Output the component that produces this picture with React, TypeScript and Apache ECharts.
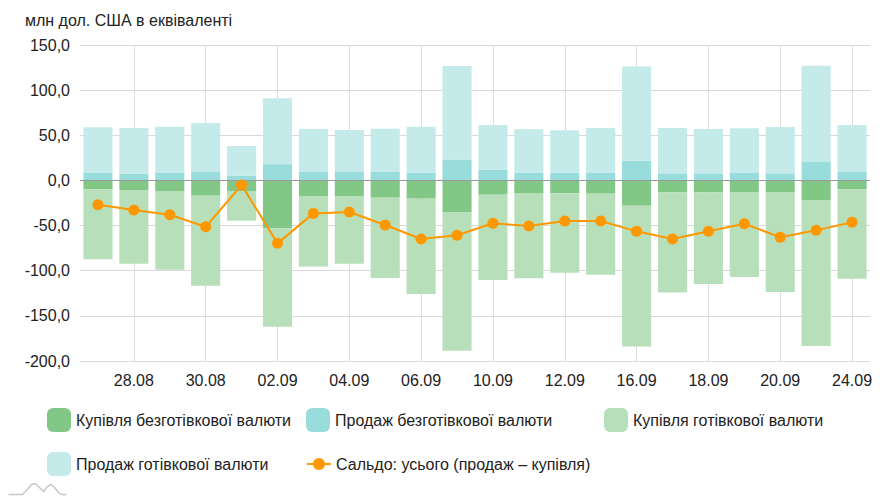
import React, { useEffect, useRef } from "react";
import * as echarts from "echarts";

const categories = [
  "27.08", "28.08", "29.08", "30.08", "31.08", "02.09", "03.09", "04.09", "05.09", "06.09", "09.09",
  "10.09", "11.09", "12.09", "13.09", "16.09", "17.09", "18.09", "19.09", "20.09", "23.09", "24.09",
];

const cashlessBuy = [
  -9.9, -10.6, -11.7, -16.9, -11.7, -53, -17.3, -17.3, -19.1, -20.2, -35.4,
  -15.8, -14, -14.3, -14.7, -28, -13.2, -13.2, -12.8, -12.8, -21.7, -9.9,
];
const cashlessSale = [
  8.2, 7.4, 8.2, 10, 5.2, 18, 9.3, 9.3, 9.7, 8.6, 23,
  11.9, 8.6, 8.6, 8.6, 21.8, 7.8, 7.8, 8.6, 7.8, 21.1, 9.3,
];
const cashBuy = [
  -77.5, -81.6, -87.2, -99.7, -32.9, -109, -77.9, -74.9, -88.9, -105.6, -153.2,
  -94.5, -94.4, -87.9, -89.7, -156, -110.8, -101.5, -94.2, -110.8, -161.7, -98.9,
];
const cashSale = [
  50.8, 50.6, 51.3, 53.6, 32.8, 73, 47.6, 46.5, 47.6, 50.9, 103.7,
  49.5, 48, 46.9, 49.4, 104.5, 50.2, 49.1, 49.1, 51.3, 105.9, 52.1,
];
const saldo = [
  -26.9, -32.8, -38, -51.3, -5.1, -69.7, -36.5, -35, -49.4, -64.9, -60.8,
  -47.5, -50.5, -45, -45, -56.4, -64.9, -56.4, -47.9, -63, -55.3, -46.4,
];

const seriesNames = [
  "Купівля безготівкової валюти",
  "Продаж безготівкової валюти",
  "Купівля готівкової валюти",
  "Продаж готівкової валюти",
  "Сальдо: усього (продаж – купівля)",
];

const unitTitle = "млн дол. США в еквіваленті";

const FONT = "'Liberation Sans', Arial, sans-serif";
const TEXT = "#222";

export default function App() {
  const ref = useRef<HTMLDivElement>(null);

  useEffect(() => {
    if (!ref.current) return;
    const chart = echarts.init(ref.current, null, { renderer: "svg" });
    const showIdx = (i: number) => i % 2 === 1;
    const legendBase = {
      itemWidth: 24,
      itemHeight: 24,
      icon: "roundRect",
      textStyle: { fontSize: 16, color: TEXT, fontFamily: FONT },
      selectedMode: false as const,
      padding: 0,
    };
    chart.setOption({
      animation: false,
      textStyle: { fontFamily: FONT },
      title: {
        text: unitTitle,
        left: 25,
        top: 12,
        padding: 0,
        textStyle: { fontSize: 16, fontWeight: "normal", color: TEXT, fontFamily: FONT },
      },
      grid: { left: 80, right: 21, top: 45, bottom: 139, containLabel: false },
      legend: [
        { ...legendBase, data: [seriesNames[0]], left: 47, top: 408 },
        { ...legendBase, data: [seriesNames[1]], left: 306, top: 408 },
        { ...legendBase, data: [seriesNames[2]], left: 604, top: 408 },
        { ...legendBase, data: [seriesNames[3]], left: 47, top: 452 },
        { ...legendBase, icon: undefined, itemHeight: 15, data: [seriesNames[4]], left: 306, top: 456 },
      ],
      xAxis: {
        type: "category",
        data: categories,
        boundaryGap: true,
        axisLine: { show: false, onZero: false },
        axisTick: { show: false },
        axisLabel: {
          interval: (i: number) => showIdx(i),
          fontSize: 16,
          color: TEXT,
          margin: 11,
          fontFamily: FONT,
        },
        splitLine: {
          show: true,
          interval: (i: number) => showIdx(i),
          alignWithLabel: true,
          lineStyle: { color: "#dddddd", width: 1 },
        },
      },
      yAxis: {
        type: "value",
        min: -200,
        max: 150,
        interval: 50,
        axisLine: { show: false },
        axisTick: { show: false },
        axisLabel: {
          fontSize: 16,
          color: TEXT,
          margin: 10,
          fontFamily: FONT,
          formatter: (v: number) => v.toFixed(1).replace(".", ","),
        },
        splitLine: { lineStyle: { color: "#d9d9d9", width: 1 } },
      },
      series: [
        {
          name: seriesNames[0],
          type: "bar",
          stack: "total",
          data: cashlessBuy,
          barCategoryGap: "19%",
          itemStyle: { color: "#82c785" },
        },
        {
          name: seriesNames[1],
          type: "bar",
          stack: "total",
          data: cashlessSale,
          itemStyle: { color: "#98dcdc" },
        },
        {
          name: seriesNames[2],
          type: "bar",
          stack: "total",
          data: cashBuy,
          itemStyle: { color: "#b7e0ba" },
        },
        {
          name: seriesNames[3],
          type: "bar",
          stack: "total",
          data: cashSale,
          itemStyle: { color: "#c4eaea" },
        },
        {
          name: seriesNames[4],
          type: "line",
          data: saldo,
          symbol: "circle",
          symbolSize: 11,
          z: 5,
          lineStyle: { color: "#ff9800", width: 2 },
          itemStyle: { color: "#ff9800" },
          markLine: {
            silent: true,
            symbol: ["none", "none"],
            label: { show: false },
            lineStyle: { color: "#999999", type: "solid", width: 1 },
            data: [{ yAxis: 0 }],
            z: 3,
          },
        },
      ],
      graphic: [
        {
          type: "polyline",
          left: 6,
          top: 481,
          shape: {
            points: [
              [0, 13], [14, 13], [19, 8], [23, 3], [27, 2], [31, 6], [35, 10], [38, 6],
              [42, 3], [46, 6], [50, 11], [53, 13], [58, 13],
            ],
          },
          style: { stroke: "#c8c8c8", lineWidth: 1.5, fill: "none" },
        },
      ],
    });
    return () => chart.dispose();
  }, []);

  return (
    <div
      ref={ref}
      style={{ position: "absolute", left: 0, top: 0, width: 891, height: 500 }}
    />
  );
}
